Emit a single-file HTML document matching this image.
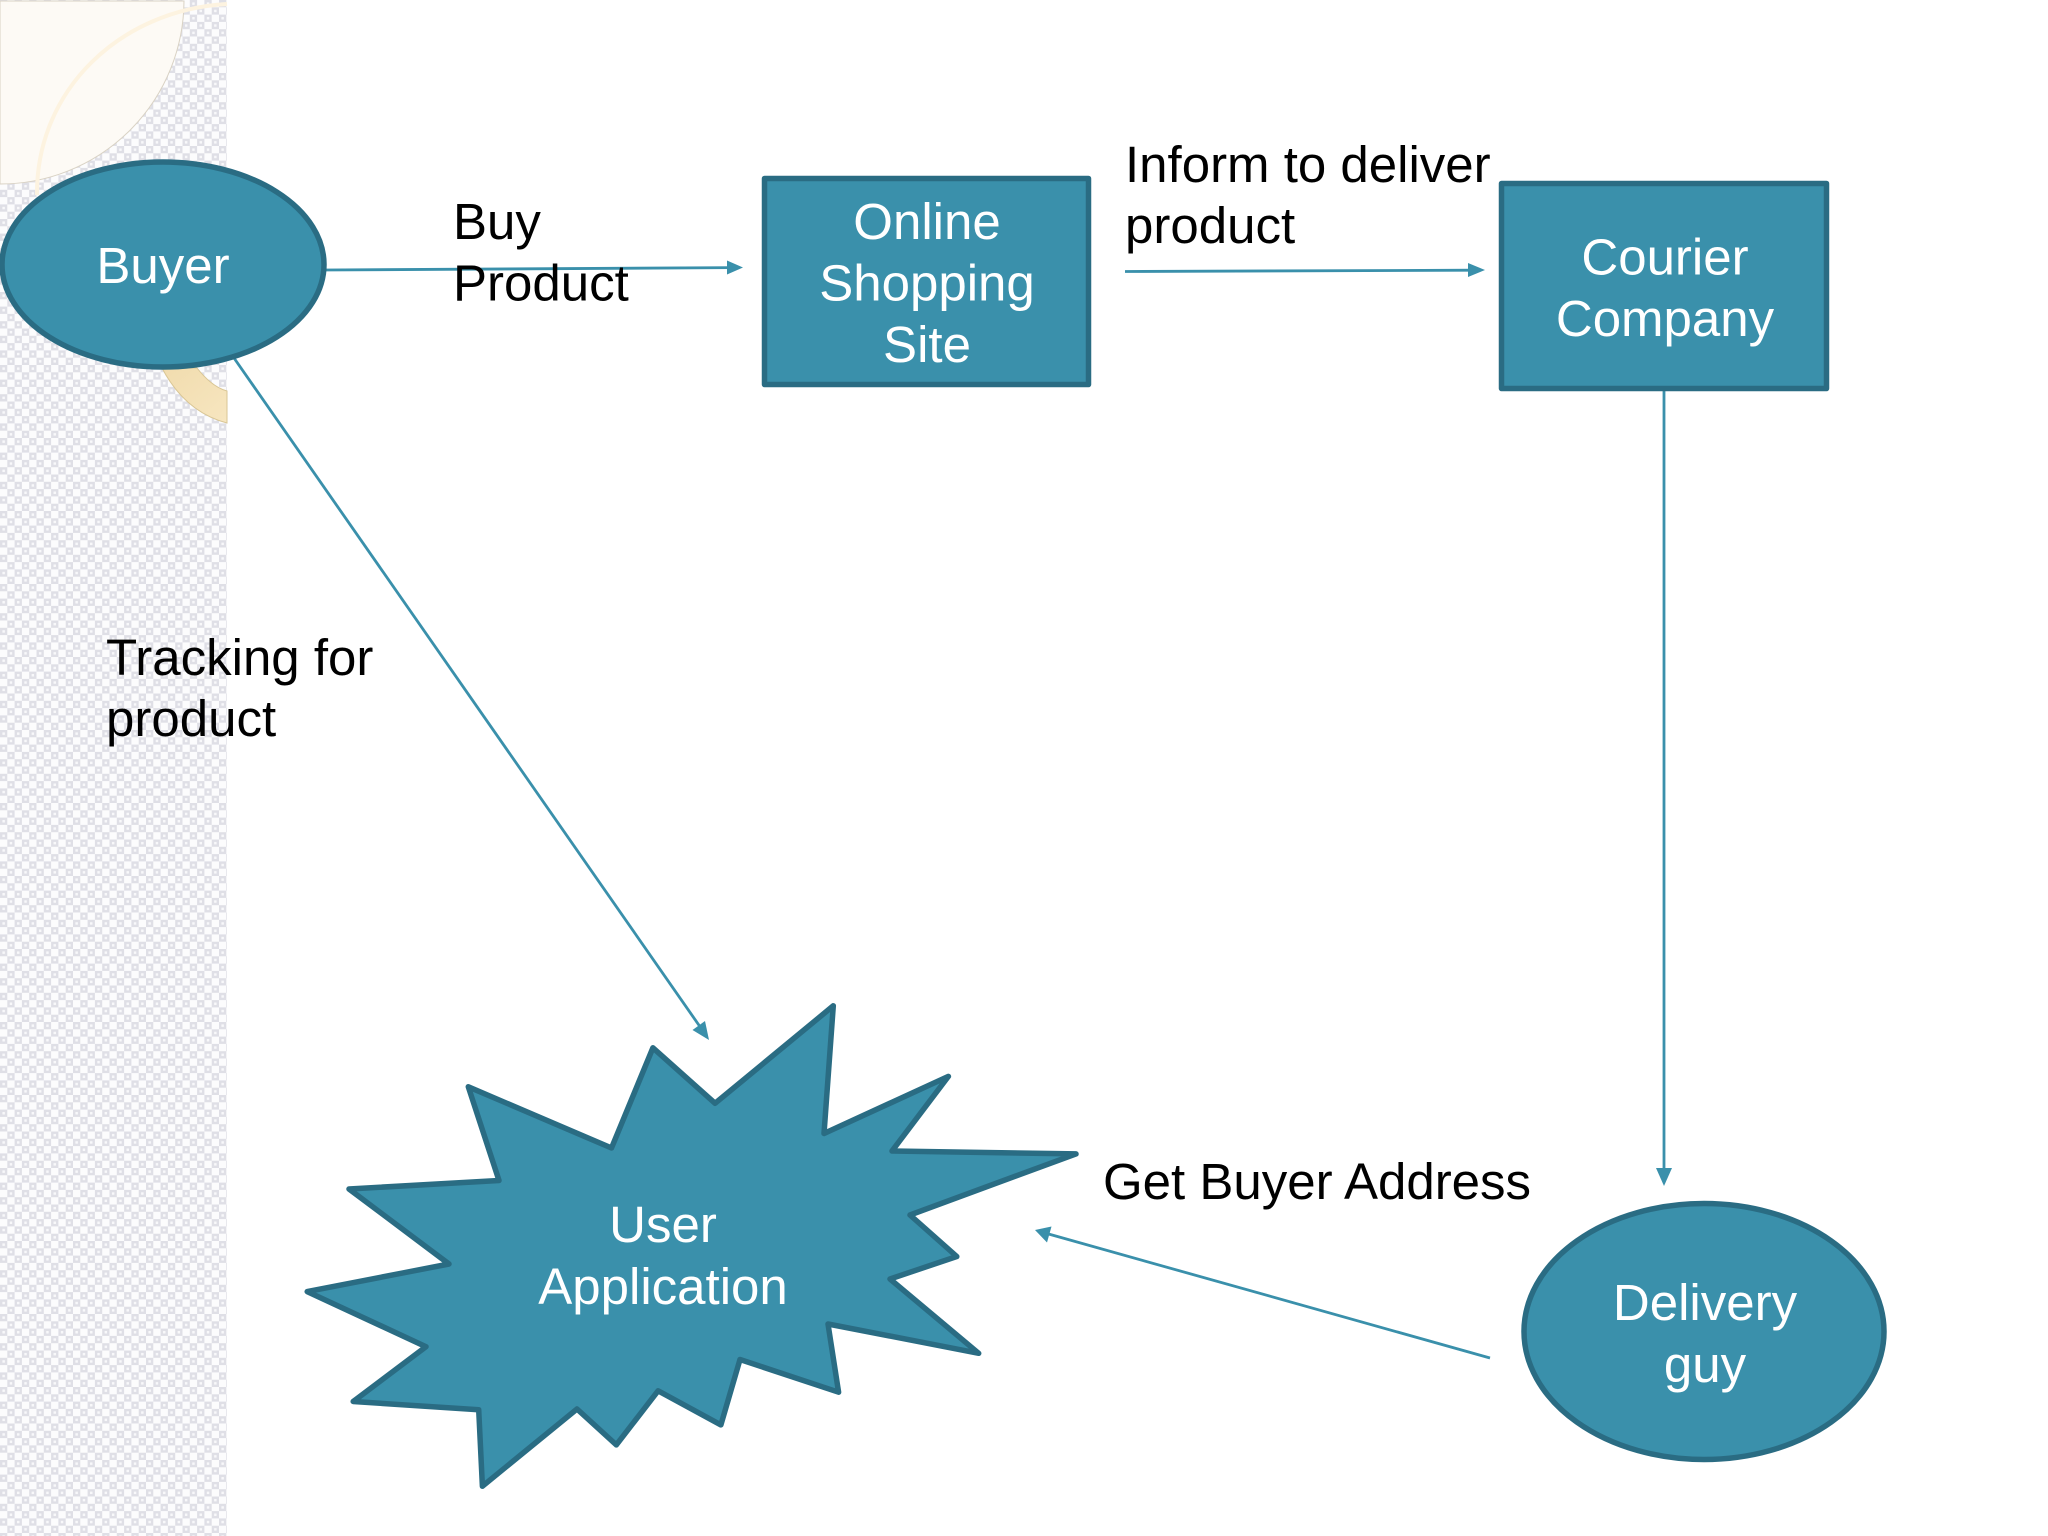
<!DOCTYPE html>
<html>
<head>
<meta charset="utf-8">
<style>
html,body{margin:0;padding:0;background:#fff;width:2048px;height:1536px;overflow:hidden}
svg{display:block}
text{font-family:"Liberation Sans",Arial,sans-serif;font-size:51px}
.w{fill:#fff;text-anchor:middle}
.k{fill:#000}
.s{fill:#3a90ab;stroke:#2a6c83;stroke-width:5.5;stroke-linejoin:round}
.c{stroke:#3a90ab;stroke-width:2.8;fill:none}
.a{fill:#3a90ab}
</style>
</head>
<body>
<svg width="2048" height="1536" viewBox="0 0 2048 1536" xmlns="http://www.w3.org/2000/svg">
<defs>
<pattern id="chk" x="0" y="0" width="14.6" height="14.6" patternUnits="userSpaceOnUse">
<rect width="14.6" height="14.6" fill="#fcfcfd"/>
<rect x="0" y="0" width="7.3" height="7.3" fill="#dfdfe6"/>
<rect x="7.3" y="7.3" width="7.3" height="7.3" fill="#dfdfe6"/>
<rect x="2.4" y="2.4" width="2.5" height="2.5" fill="#f8f8fa"/>
<rect x="9.7" y="9.7" width="2.5" height="2.5" fill="#f8f8fa"/>
</pattern>
<linearGradient id="gold" x1="0" y1="0" x2="1" y2="1">
<stop offset="0" stop-color="#f1dcae"/>
<stop offset="1" stop-color="#f7e6c0"/>
</linearGradient>
</defs>

<rect width="2048" height="1536" fill="#fff"/>
<rect x="0" y="0" width="227" height="1536" fill="url(#chk)"/>

<path d="M0 1H184A184 184 0 0 1 0 184Z" fill="#fdfaf5" stroke="#d9d2c4" stroke-width="1"/>
<path d="M227 4C120 10 36 90 37 195" fill="none" stroke="#fdf3e0" stroke-width="4"/>
<path d="M162 368Q185 412 227 423V391Q212 387 197 368Z" fill="url(#gold)" stroke="#d9c695" stroke-width="1"/>

<line class="c" x1="325" y1="270" x2="732" y2="267.6"/>
<polygon class="a" points="743,267.5 727,260.5 727,274.5"/>
<line class="c" x1="1125" y1="271.5" x2="1474" y2="270.2"/>
<polygon class="a" points="1485,270 1468,263 1468,277"/>
<line class="c" x1="1664" y1="391" x2="1664" y2="1175"/>
<polygon class="a" points="1664,1186 1656,1168 1672,1168"/>
<line class="c" x1="234" y1="358" x2="703" y2="1031"/>
<polygon class="a" points="709,1040 705,1021 692.5,1030"/>
<line class="c" x1="1490" y1="1358" x2="1045" y2="1233"/>
<polygon class="a" points="1035,1230 1047,1242.5 1051.5,1226.5"/>

<ellipse class="s" cx="163" cy="264.5" rx="161" ry="102.5"/>
<rect class="s" x="764.5" y="178.5" width="324" height="206"/>
<rect class="s" x="1501.5" y="183.5" width="325" height="205"/>
<ellipse class="s" cx="1704" cy="1331.5" rx="180" ry="128"/>
<polygon class="s" points="833.3,1005.8 824,1133.5 948.4,1076.4 892,1151 1076,1153.9 910,1215 956.8,1256.5 890,1279 978.7,1353.3 828,1324 838.6,1392.2 740,1359.5 720.9,1424.9 658.1,1390.8 616.3,1444.9 577,1409 482.4,1486.2 478.7,1409.8 353.2,1401.5 426,1346.7 307.2,1291.6 449,1264 349,1189 499,1180.5 468.3,1086.8 611.5,1148 652.9,1047.8 715.1,1103.3"/>

<text class="w" x="163" y="283">Buyer</text>
<text class="w" x="927" y="239">Online</text>
<text class="w" x="927" y="300.5">Shopping</text>
<text class="w" x="927" y="362">Site</text>
<text class="w" x="1665" y="274.5">Courier</text>
<text class="w" x="1665" y="336">Company</text>
<text class="w" x="1705" y="1320">Delivery</text>
<text class="w" x="1705" y="1382">guy</text>
<text class="w" x="663" y="1242">User</text>
<text class="w" x="663" y="1304">Application</text>

<text class="k" x="453" y="239">Buy</text>
<text class="k" x="453" y="300.5">Product</text>
<text class="k" x="1125" y="182">Inform to deliver</text>
<text class="k" x="1125" y="243">product</text>
<text class="k" x="106" y="675">Tracking for</text>
<text class="k" x="106" y="736">product</text>
<text class="k" x="1103" y="1199">Get Buyer Address</text>
</svg>
</body>
</html>
